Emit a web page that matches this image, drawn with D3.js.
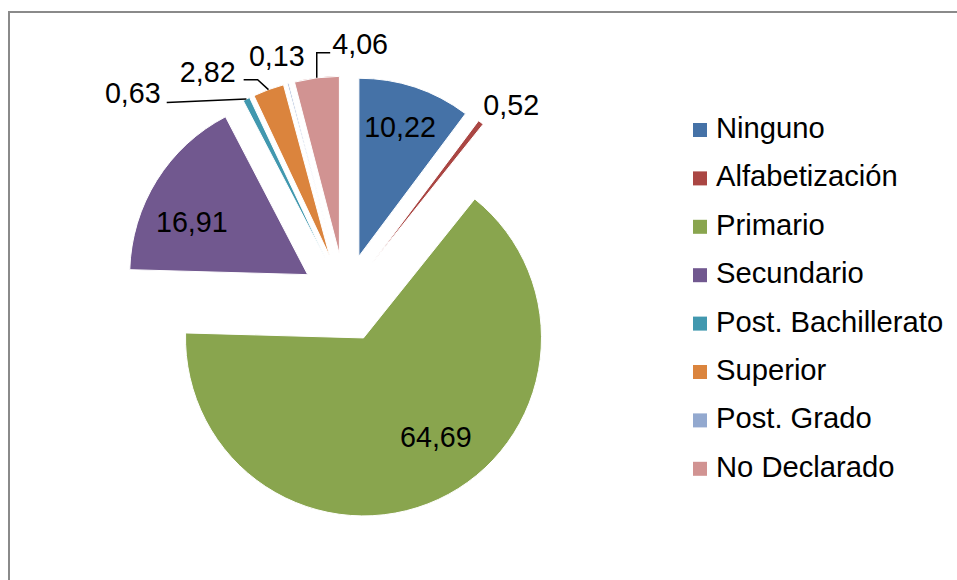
<!DOCTYPE html>
<html>
<head>
<meta charset="utf-8">
<script src="https://cdn.jsdelivr.net/npm/d3@7"></script>
<style>
  body { margin: 0; background: #ffffff; }
  svg { display: block; font-family: "Liberation Sans", Arial, sans-serif; }
</style>
</head>
<body>
<div class="pie_chart"></div>
<script>
// data (percentages)
var categories = ["Ninguno", "Alfabetización", "Primario", "Secundario",
  "Post. Bachillerato", "Superior", "Post. Grado", "No Declarado"];
var values = [10.22, 0.52, 64.69, 16.91, 0.63, 2.82, 0.13, 4.06];
var colors = ["#4572A7", "#AA4643", "#89A54E", "#71588F",
  "#4198AF", "#DB843D", "#93A9CF", "#D19392"];

// label placement: polar position around the pie centre (radius px, angle deg)
var label_layout = [
  {r: 180, a: 17.8, leader: null},
  {r: 255, a: 40.7, leader: null},
  {r: 166, a: 146.8, leader: null},
  {r: 171, a: 296.4, leader: null},
  {r: 295, a: 314.0, leader: "right"},
  {r: 265, a: 328.8, leader: "right_elbow"},
  {r: 252, a: 344.3, leader: null},
  {r: 255, a: 3.4, leader: "left_up"}
];

var width = 957, height = 580;
var center = {x: 345, y: 298};
var radius = 178;
var explode = 44;
var font_size = 28.7;
var legend_font = 29.2;

var fmt = d3.formatLocale({decimal: ",", thousands: ".", grouping: [3], currency: ["", ""]}).format(".2f");

var figure_data = categories.map((c, i) => ({name: c, value: values[i], color: colors[i], layout: label_layout[i]}));

var svg = d3.select(".pie_chart")
  .append("svg")
    .attr("width", width)
    .attr("height", height);

// chart area border (runs off the right and bottom edge)
svg.append("rect")
  .attr("x", 9)
  .attr("y", 12)
  .attr("width", width + 20)
  .attr("height", height + 20)
  .attr("fill", "#ffffff")
  .attr("stroke", "#8a8a8a")
  .attr("stroke-width", 2);

var pie = d3.pie()
  .sort(null)
  .value(d => d.value);

var arcs = pie(figure_data);

var arc = d3.arc()
  .innerRadius(0)
  .outerRadius(radius);

var polar = function (r, a) {
  var rad = a * Math.PI / 180;
  return [r * Math.sin(rad), -r * Math.cos(rad)];
};

var g = svg.append("g")
  .attr("transform", "translate(" + center.x + "," + center.y + ")");

g.selectAll("path.slice")
  .data(arcs)
  .enter()
  .append("path")
    .attr("class", "slice")
    .attr("transform", d => {
      var mid = (d.startAngle + d.endAngle) / 2 * 180 / Math.PI;
      var p = polar(explode, mid);
      return "translate(" + p[0] + "," + p[1] + ")";
    })
    .attr("d", arc)
    .attr("fill", d => d.data.color)
    .attr("stroke", "#ffffff")
    .attr("stroke-width", 1);

// labels
var labels = g.selectAll("text.label")
  .data(arcs)
  .enter()
  .append("text")
    .attr("class", "label")
    .attr("x", d => polar(d.data.layout.r, d.data.layout.a)[0])
    .attr("y", d => polar(d.data.layout.r, d.data.layout.a)[1] + font_size * 0.36)
    .attr("text-anchor", "middle")
    .attr("font-size", font_size)
    .attr("fill", "#000000")
    .text(d => fmt(d.data.value));

// leader lines from label to the outer edge of the (exploded) slice
labels.each(function (d) {
  var kind = d.data.layout.leader;
  if (!kind) return;
  var box = this.getBBox();
  var mid = (d.startAngle + d.endAngle) / 2 * 180 / Math.PI;
  var off = polar(explode, mid);
  var edge = polar(radius, mid);
  var end = [off[0] + edge[0], off[1] + edge[1]];
  var base = +d3.select(this).attr("y");
  var pts;
  if (kind === "right") {
    pts = [[box.x + box.width + 6, base - 1], end];
  } else if (kind === "right_elbow") {
    var sx = box.x + box.width + 8;
    pts = [[sx, base - 2], [sx + 14, base - 2], end];
  } else {
    var lx = box.x - 2;
    pts = [[lx, base - 1], [end[0], base - 1], end];
  }
  g.append("path")
    .attr("d", d3.line()(pts))
    .attr("fill", "none")
    .attr("stroke", "#000000")
    .attr("stroke-width", 1.5);
});

// legend
var legend_step = 48.4;
var legend = svg.selectAll("g.legend")
  .data(figure_data)
  .enter()
  .append("g")
    .attr("class", "legend")
    .attr("transform", (d, i) => "translate(693," + (138 + i * legend_step) + ")");

legend.append("rect")
  .attr("x", 0)
  .attr("y", -15)
  .attr("width", 14)
  .attr("height", 14)
  .attr("fill", d => d.color);

legend.append("text")
  .attr("x", 23)
  .attr("y", 0)
  .attr("font-size", legend_font)
  .attr("fill", "#000000")
  .text(d => d.name);
</script>
</body>
</html>
